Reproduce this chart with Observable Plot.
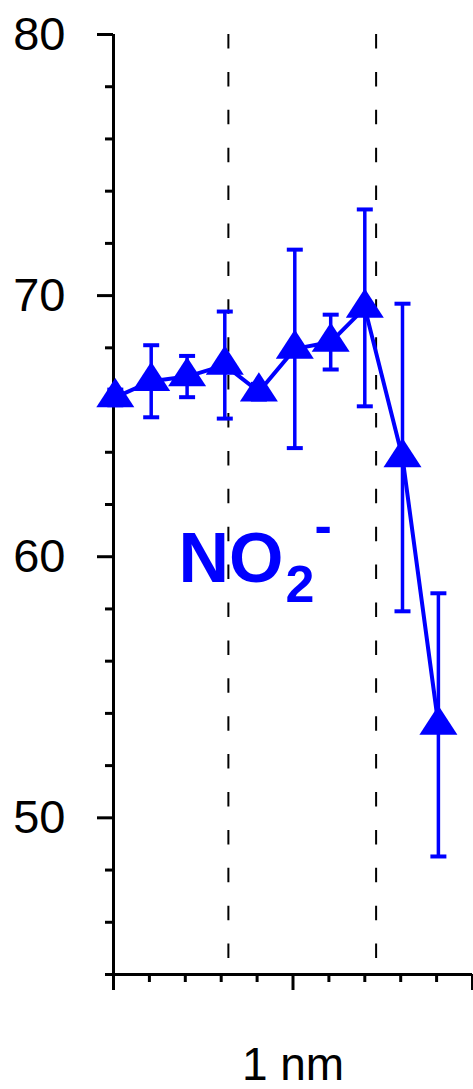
<!DOCTYPE html>
<html>
<head>
<meta charset="utf-8">
<script src="https://cdn.jsdelivr.net/npm/d3@7"></script>
<script src="https://cdn.jsdelivr.net/npm/@observablehq/plot@0.6"></script>
<style>
  html, body { margin: 0; padding: 0; background: #fff; }
  svg { display: block; }
</style>
</head>
<body>
<script>
// ---- data ----
const distance = [0.01, 0.21, 0.41, 0.62, 0.81, 1.01, 1.21, 1.40, 1.61, 1.81];
const value    = [66.1, 66.72, 66.9, 67.34, 66.32, 67.96, 68.22, 69.53, 63.8, 53.56];
const errorBar = [0.3, 1.38, 0.79, 2.05, 0.3, 3.8, 1.05, 3.77, 5.89, 5.04];
const boundaries = [0.64, 1.463];

const yMajorTicks = [50, 60, 70, 80];
const yMinorTicks = [44, 46, 48, 52, 54, 56, 58, 62, 64, 66, 68, 72, 74, 76, 78];
const xMajorTicks = [0, 1, 2];
const xMinorTicks = [0.2, 0.4, 0.6, 0.8, 1.2, 1.4, 1.6, 1.8];
const xLabelPos = [1];
const xLabelText = ["1 nm"];
const labelPos = [{x: 0.362, y: 59.05}];
const labelParts = ["NO", "2", "-"];

const blue = "#0000ff";
const data = distance.map((x, i) => ({x, y: value[i], e: errorBar[i]}));

const triangle = {
  draw(ctx) {
    ctx.moveTo(0, -19.5);
    ctx.lineTo(19, 9.75);
    ctx.lineTo(-19, 9.75);
    ctx.closePath();
  }
};
const cap = {
  draw(ctx) {
    ctx.moveTo(-8, 0);
    ctx.lineTo(8, 0);
  }
};

const chart = Plot.plot({
  width: 473,
  height: 1089,
  marginLeft: 113,
  marginRight: 1,
  marginTop: 34,
  marginBottom: 115,
  x: {domain: [0, 2]},
  y: {domain: [44, 80]},
  style: {fontFamily: "'Liberation Sans', Arial, Helvetica, sans-serif", background: "white", color: "black"},
  marks: [
    // label NO2-
    Plot.text(labelPos, {x: "x", y: "y", text: () => labelParts[0], textAnchor: "start", lineAnchor: "bottom",
      fontSize: 70, fontWeight: "bold", fill: blue}),
    Plot.text(labelPos, {x: "x", y: "y", text: () => labelParts[1], textAnchor: "start", lineAnchor: "bottom",
      fontSize: 52, fontWeight: "bold", fill: blue, dx: 107, dy: 20}),
    Plot.text(labelPos, {x: "x", y: "y", text: () => labelParts[2], textAnchor: "start", lineAnchor: "bottom",
      fontSize: 52, fontWeight: "bold", fill: blue, dx: 136, dy: -39}),
    // dashed boundaries
    Plot.ruleX(boundaries, {stroke: "black", strokeWidth: 2, strokeDasharray: "14.5,23.4"}),
    // axes
    Plot.axisY({ticks: yMinorTicks, tickSize: 8, strokeWidth: 3, tickFormat: () => "", label: null}),
    Plot.axisY({ticks: yMajorTicks, tickSize: 16, tickPadding: 32, strokeWidth: 3, fontSize: 47, label: null}),
    Plot.axisX({ticks: xMinorTicks, tickSize: 8, strokeWidth: 3, tickFormat: () => "", label: null}),
    Plot.axisX({ticks: xMajorTicks, tickSize: 16, strokeWidth: 3, tickFormat: () => "", label: null}),
    Plot.text(xLabelText, {x: xLabelPos, frameAnchor: "bottom", lineAnchor: "bottom", dy: 105, fontSize: 46, fill: "black"}),
    Plot.ruleX([0], {strokeWidth: 3}),
    Plot.ruleY([44], {strokeWidth: 3}),
    // data
    Plot.line(data, {x: "x", y: "y", stroke: blue, strokeWidth: 4}),
    Plot.ruleX(data, {x: "x", y1: d => d.y - d.e, y2: d => d.y + d.e, stroke: blue, strokeWidth: 3.5}),
    Plot.dot(data, {x: "x", y: d => d.y + d.e, symbol: cap, stroke: blue, fill: "none", strokeWidth: 4}),
    Plot.dot(data, {x: "x", y: d => d.y - d.e, symbol: cap, stroke: blue, fill: "none", strokeWidth: 4}),
    Plot.dot(data, {x: "x", y: "y", symbol: triangle, fill: blue, stroke: "none", r: 12})
  ]
});
document.body.appendChild(chart);
</script>
</body>
</html>
